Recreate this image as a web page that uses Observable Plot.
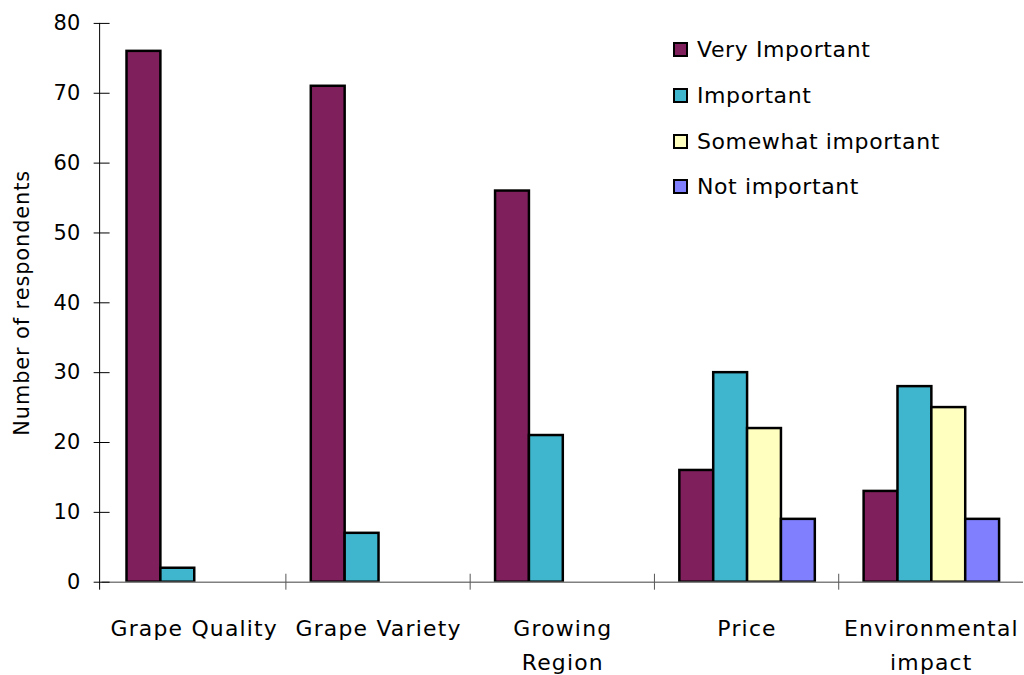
<!DOCTYPE html>
<html>
<head>
<meta charset="utf-8">
<script src="https://cdn.jsdelivr.net/npm/d3@7"></script>
<script src="https://cdn.jsdelivr.net/npm/@observablehq/plot@0.6"></script>
<style>
  html, body { margin: 0; padding: 0; background: #fff; overflow: hidden; width: 1024px; height: 675px; }
  #wrap { position: relative; width: 1024px; height: 675px; }
  #legend { position: absolute; left: 673px; top: 27px; font-family: "DejaVu Sans", sans-serif; font-size: 22px; letter-spacing: 0.6px; color: #000; }
  #legend .row { display: flex; align-items: center; height: 45.7px; }
  #legend .sw { width: 11px; height: 11px; border: 2px solid #000; margin-right: 9px; }
</style>
</head>
<body>
<div id="wrap"><div id="legend"></div></div>
<script>
const categories = ["Grape Quality", "Grape Variety", "Growing Region", "Price", "Environmental impact"];
const tickLabels = ["Grape Quality", "Grape Variety", "Growing\nRegion", "Price", "Environmental\nimpact"];
const series = ["Very Important", "Important", "Somewhat important", "Not important"];
const colors = ["#7F1F5C", "#3FB6CE", "#FFFFC0", "#8080FF"];
const veryImportant = [76, 71, 56, 16, 13];
const important = [2, 7, 21, 30, 28];
const somewhatImportant = [null, null, null, 22, 25];
const notImportant = [null, null, null, 9, 9];
const yTicks = [0, 10, 20, 30, 40, 50, 60, 70, 80];

const seriesValues = [veryImportant, important, somewhatImportant, notImportant];
const rows = [];
categories.forEach((c, i) => {
  series.forEach((s, j) => {
    const v = seriesValues[j][i];
    if (v != null) rows.push({category: c, series: s, value: v});
  });
});

const chart = Plot.plot({
  width: 1028,
  height: 675,
  marginLeft: 100,
  marginRight: 0,
  marginTop: 23,
  marginBottom: 91,
  style: {fontFamily: "DejaVu Sans, sans-serif", fontSize: "21px", color: "#000", background: "#fff", overflow: "visible"},
  fx: {domain: categories, padding: 0, axis: null},
  x: {domain: series, paddingInner: 0, paddingOuter: 0.69, axis: null},
  y: {domain: [0, 80], axis: null},
  color: {domain: series, range: colors},
  marks: [
    Plot.barY(rows, {fx: "category", x: "series", y: "value", fill: "series", stroke: "#000", strokeWidth: 2.5}),
    Plot.ruleY([0], {stroke: "#808080", strokeWidth: 1.5}),
    Plot.axisY({
      ticks: yTicks, tickSize: 16, dx: 8, tickPadding: 14, tickFormat: d => String(d),
      fontSize: 21, stroke: "#000",
      label: "Number of respondents", labelAnchor: "center", labelArrow: "none", labelOffset: 88
    }),
    Plot.axisFx({
      anchor: "bottom", tickSize: 0, tickPadding: 30, label: null,
      tickFormat: d => tickLabels[categories.indexOf(d)], fontSize: 22, lineHeight: 1.55
    })
  ]
});

document.getElementById("wrap").prepend(chart);

const svg = d3.select(chart.tagName.toLowerCase() === "svg" ? chart : chart.querySelector("svg"));
svg.selectAll("[aria-label='fx-axis tick label'] text").style("letter-spacing", "1.2px");
svg.selectAll("[aria-label='y-axis label'] text").style("letter-spacing", "0.9px");

// y axis line and category boundary ticks, from the chart's own scales
const yScale = chart.scale("y");
const fxScale = chart.scale("fx");
const y0 = yScale.apply(0), yTop = yScale.apply(80);
const decor = svg.append("g").attr("stroke", "#000").attr("stroke-width", 1);
decor.append("line")
  .attr("x1", 100).attr("x2", 100)
  .attr("y1", yTop).attr("y2", y0 + 8);
categories.slice(1).forEach(c => {
  const x = fxScale.apply(c);
  decor.append("line").attr("x1", x).attr("x2", x).attr("y1", y0 - 8).attr("y2", y0 + 8).attr("stroke", "#555");
});

const legend = d3.select("#legend");
series.forEach((s, j) => {
  const row = legend.append("div").attr("class", "row");
  row.append("div").attr("class", "sw").style("background", colors[j]);
  row.append("span").text(s);
});
</script>
</body>
</html>
